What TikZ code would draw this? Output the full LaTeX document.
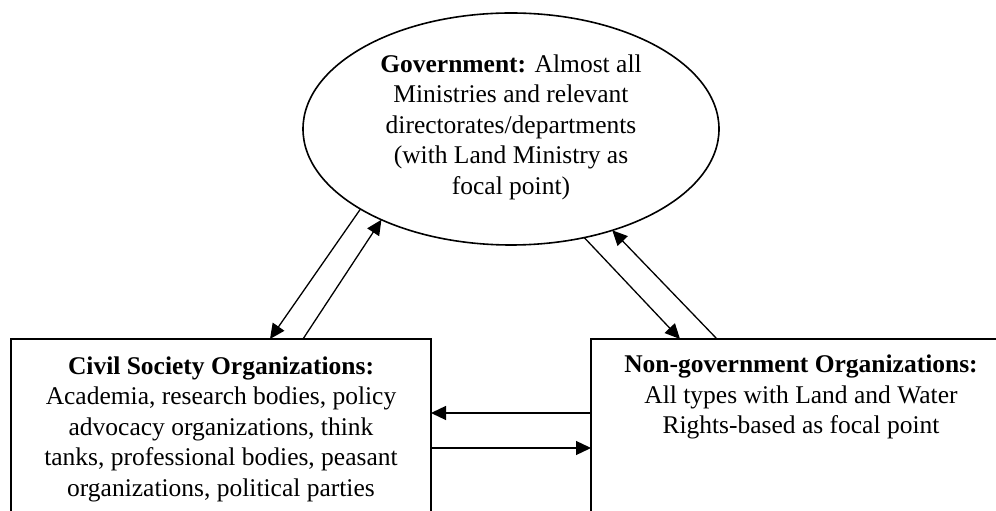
\documentclass[tikz,border=0pt]{standalone}
\usepackage{fontspec}
\setmainfont{Liberation Serif}
\usetikzlibrary{arrows.meta,calc,shapes.geometric}
\begin{document}
\begin{tikzpicture}[x=1pt,y=1pt,
  shapeline/.style={draw=black,line width=1.6pt},
  boxshape/.style={shapeline,rectangle,inner sep=0pt,outer sep=0pt,minimum width=420pt,minimum height=230pt,anchor=north west},
  txt/.style={align=center,inner sep=0pt,font=\fontsize{25.5}{30.5}\selectfont},
  conn/.style={draw=black,line width=1.3pt,-{Triangle[length=15pt,width=14pt]}}]
\useasboundingbox (0,0) rectangle (996,511);
\clip (0,0) rectangle (996,511);
% government ellipse
\node[shapeline,ellipse,minimum width=416pt,minimum height=232pt,inner sep=0pt,outer sep=0pt] (gov) at (511,382) {};
\node[txt] (govtext) at (511,384) {\textbf{Government:} Almost all\\Ministries and relevant\\directorates/departments\\(with Land Ministry as\\focal point)};
% boxes
\node[boxshape] (cso) at (11,172) {};
\node[boxshape] (ngo) at (591,172) {};
\node[txt] (csotext) at (221,82) {\textbf{Civil Society Organizations:}\\Academia, research bodies, policy\\advocacy organizations, think\\tanks, professional bodies, peasant\\organizations, political parties};
\node[txt] (ngotext) at (801,114) {\textbf{Non-government Organizations:}\\All types with Land and Water\\Rights-based as focal point};
% connectors
\coordinate (a1) at ($(cso.north west)+(259,0)$);
\coordinate (a2) at ($(cso.north west)+(292,0)$);
\coordinate (a3) at ($(ngo.north west)+(89,0)$);
\coordinate (a4) at ($(ngo.north west)+(126,0)$);
\draw[conn] (gov.208.5) -- (a1);
\draw[conn] (a2) -- (gov.215.4);
\draw[conn] (gov.304.4) -- (a3);
\draw[conn] (a4) -- (gov.315);
\coordinate (h1) at ($(ngo.north west)+(0,-74)$);
\coordinate (h1e) at ($(cso.north east)+(0,-74)$);
\coordinate (h2) at ($(cso.north east)+(0,-109)$);
\coordinate (h2e) at ($(ngo.north west)+(0,-109)$);
\draw[conn] (h1) -- (h1e);
\draw[conn] (h2) -- (h2e);
\end{tikzpicture}
\end{document}
